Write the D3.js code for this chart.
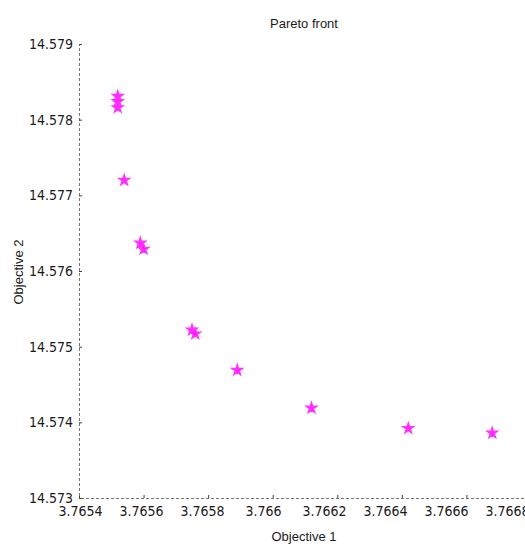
<!DOCTYPE html>
<html><head><meta charset="utf-8">
<script src="https://cdn.jsdelivr.net/npm/d3@7"></script>
<style>body{margin:0;background:#fff;} svg{display:block;}</style>
</head><body>
<svg id="c" width="525" height="545"></svg>
<script>
const titleText = "Pareto front";
const xLabel = "Objective 1";
const yLabel = "Objective 2";
const obj1 = [3.76552, 3.76552, 3.76552, 3.76554, 3.76559, 3.76560, 3.76575, 3.76576, 3.76589, 3.76612, 3.76642, 3.76668];
const obj2 = [14.57831, 14.57824, 14.57816, 14.57720, 14.57637, 14.57629, 14.57522, 14.57517, 14.57469, 14.57419, 14.57392, 14.57386];
const xTicks = [3.7654, 3.7656, 3.7658, 3.766, 3.7662, 3.7664, 3.7666, 3.7668];
const yTicks = [14.573, 14.574, 14.575, 14.576, 14.577, 14.578, 14.579];

const svg = d3.select("#c");
const x = d3.scaleLinear().domain([3.7654, 3.7668]).range([79, 531]);
// tick labels in the source image sit on a slightly compressed spacing
const xLab = d3.scaleLinear().domain([3.7654, 3.7668]).range([80, 507]);
const y = d3.scaleLinear().domain([14.573, 14.579]).range([498, 44]);
const font = "'Liberation Sans Narrow', 'Arial Narrow', 'DejaVu Sans Condensed', Arial, sans-serif";
const font2 = "Arial, 'Liberation Sans', sans-serif";

const xAxis = d3.axisBottom(x).tickValues(xTicks).tickSize(-3).tickPadding(8)
  .tickFormat(d => (+d.toFixed(4)).toString());
const yAxis = d3.axisLeft(y).tickValues(yTicks).tickSize(-3).tickPadding(6)
  .tickFormat(d => (+d.toFixed(3)).toString());

const gx = svg.append("g").attr("transform", "translate(0,498)").call(xAxis);
const gy = svg.append("g").attr("transform", "translate(79,0)").call(yAxis);
[gx, gy].forEach(g => {
  g.select(".domain").attr("stroke", "#777").attr("stroke-dasharray", "3,2").attr("stroke-width", 1);
  g.selectAll(".tick line").attr("stroke", "#444");
  g.selectAll(".tick text").attr("fill", "#1a1a1a").style("font-family", font).style("font-size", "14px");
});
gx.selectAll(".tick text").attr("dx", d => xLab(d) - x(d));

// points
const data = obj1.map((v, i) => ({x: v, y: obj2[i]}));
const star = d3.symbol().type(d3.symbolStar).size(38);
svg.append("g").selectAll("path").data(data).join("path")
  .attr("d", star)
  .attr("transform", d => `translate(${x(d.x)},${y(d.y)})`)
  .attr("fill", "#ff00ff")
  .attr("fill-opacity", 0.85)
  .attr("stroke", "#ff33ff")
  .attr("stroke-width", 1.2);

// labels
svg.append("text").attr("x", 304).attr("y", 28).attr("text-anchor", "middle")
  .style("font-family", font2).style("font-size", "13px").attr("fill", "#1a1a1a").text(titleText);
svg.append("text").attr("x", 304).attr("y", 541).attr("text-anchor", "middle")
  .style("font-family", font2).style("font-size", "13px").attr("fill", "#1a1a1a").text(xLabel);
svg.append("text").attr("transform", "translate(23,272) rotate(-90)").attr("text-anchor", "middle")
  .style("font-family", font2).style("font-size", "13px").attr("fill", "#1a1a1a").text(yLabel);
</script>
</body></html>
